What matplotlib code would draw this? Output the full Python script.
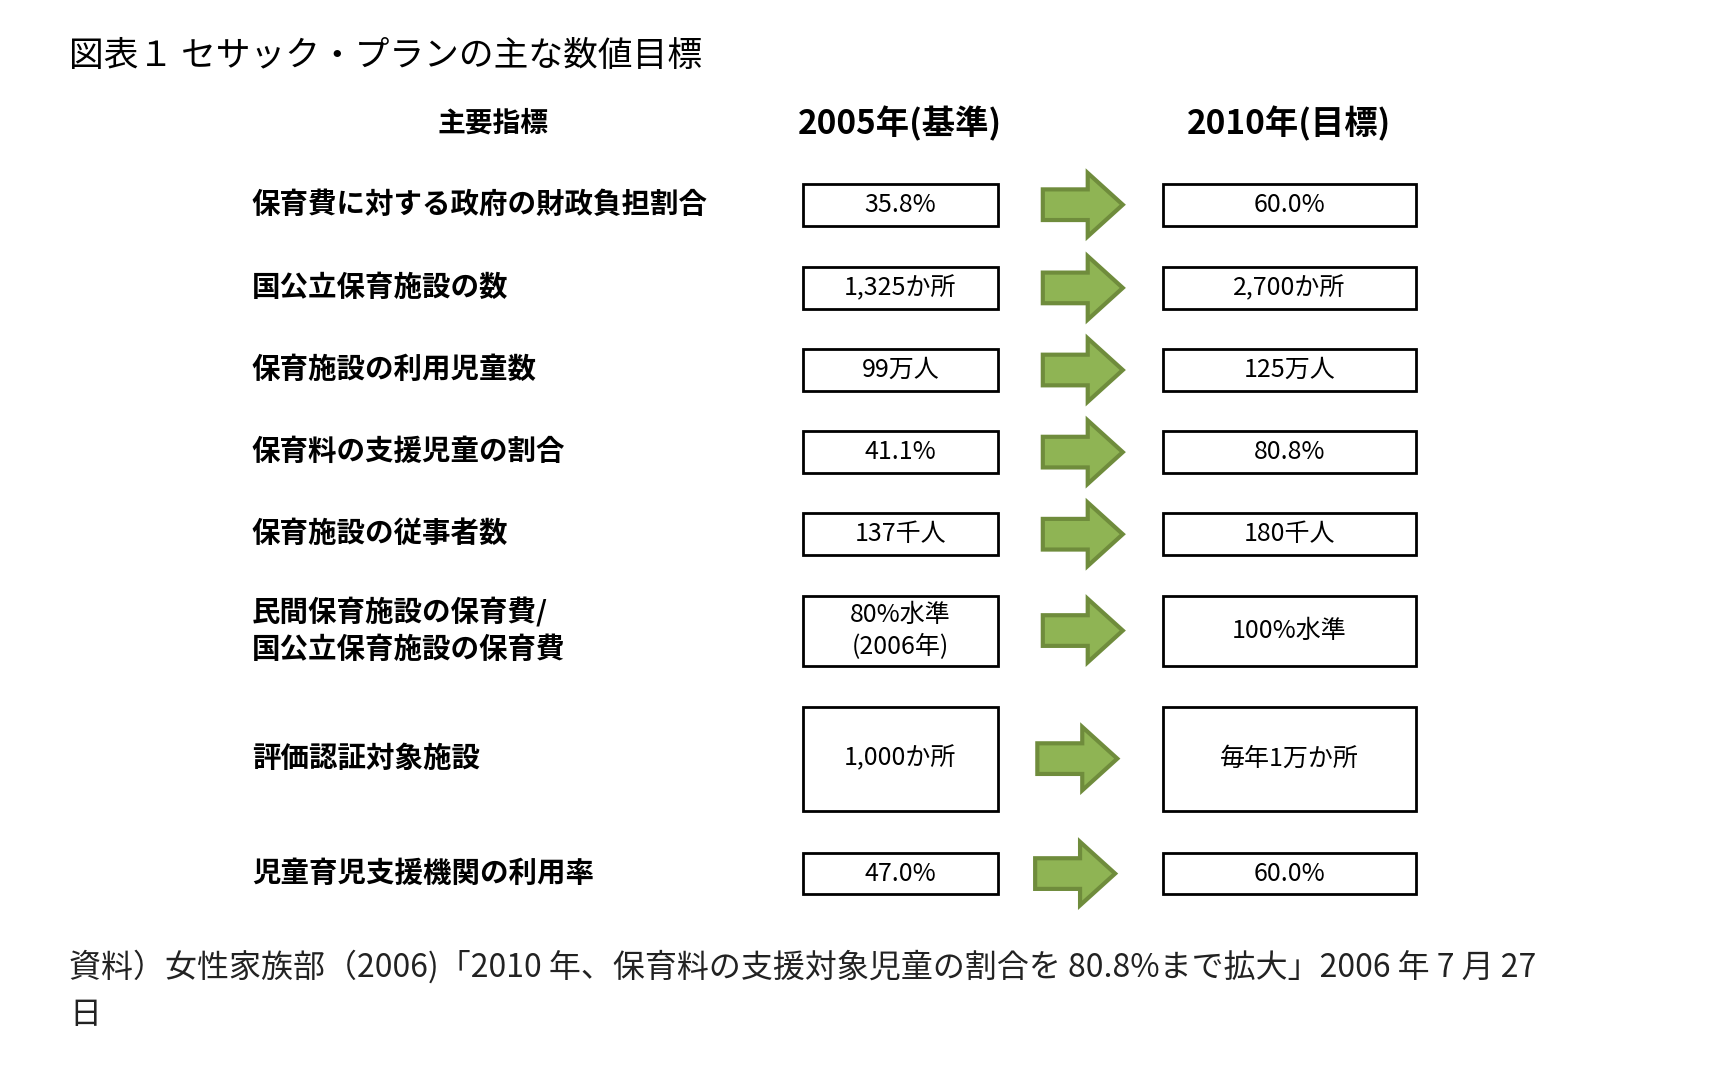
import matplotlib
matplotlib.use("Agg")
import matplotlib.pyplot as plt
from matplotlib.patches import Rectangle, Polygon

title = "図表１ セサック・プランの主な数値目標"
headers = ["主要指標", "2005年(基準)", "2010年(目標)"]
indicators = ["保育費に対する政府の財政負担割合", "国公立保育施設の数", "保育施設の利用児童数",
              "保育料の支援児童の割合", "保育施設の従事者数",
              "民間保育施設の保育費/\n国公立保育施設の保育費", "評価認証対象施設", "児童育児支援機関の利用率"]
base2005 = ["35.8%", "1,325か所", "99万人", "41.1%", "137千人", "80%水準\n(2006年)", "1,000か所", "47.0%"]
target2010 = ["60.0%", "2,700か所", "125万人", "80.8%", "180千人", "100%水準", "毎年1万か所", "60.0%"]
note = "資料）女性家族部（2006)「2010 年、保育料の支援対象児童の割合を 80.8%まで拡大」2006 年 7 月 27\n日"

# layout (display units)
row_y = [187, 263, 338, 413, 488, 576, 693, 798]
row_h = [38, 38, 38, 38, 38, 64, 95, 37]
arrow_x = [952, 952, 952, 952, 952, 952, 947, 945]

FONT = "Noto Sans CJK JP"
fig = plt.figure(figsize=(17.11, 10.75), dpi=100)
ax = fig.add_axes([0, 0, 1, 1])
ax.set_xlim(0, 1562)
ax.set_ylim(982, 0)
ax.axis("off")

ax.text(63, 52, title, fontsize=25, fontfamily=FONT, va="center", ha="left")
ax.text(450, 113, headers[0], fontsize=20, fontfamily=FONT, fontweight="bold", va="center", ha="center")
ax.text(822, 113, headers[1], fontsize=24, fontfamily=FONT, fontweight="bold", va="center", ha="center")
ax.text(1177, 113, headers[2], fontsize=24, fontfamily=FONT, fontweight="bold", va="center", ha="center")

for y, h, ax0, lab, a, b in zip(row_y, row_h, arrow_x, indicators, base2005, target2010):
    ax.text(230, y, lab, fontsize=20.5, fontfamily=FONT, fontweight="bold", va="center", ha="left", linespacing=1.4)
    ax.add_patch(Rectangle((733, y - h / 2), 178, h, fill=False, lw=2, ec="black"))
    ax.add_patch(Rectangle((1062, y - h / 2), 231, h, fill=False, lw=2, ec="black"))
    ax.text(822, y, a, fontsize=18, fontfamily=FONT, va="center", ha="center", linespacing=1.3)
    ax.text(1177, y, b, fontsize=18, fontfamily=FONT, va="center", ha="center")
    sh, hh, L, hl = 14, 29, 73, 32
    pts = [(ax0, y - sh), (ax0 + L - hl, y - sh), (ax0 + L - hl, y - hh), (ax0 + L, y),
           (ax0 + L - hl, y + hh), (ax0 + L - hl, y + sh), (ax0, y + sh)]
    ax.add_patch(Polygon(pts, closed=True, fc="#8fb454", ec="#6f8c3c", lw=3, joinstyle="miter"))

ax.text(63, 905, note, fontsize=23, fontfamily=FONT, va="center", ha="left", linespacing=1.6, color="#222222")

fig.savefig("out.png", dpi=100)
